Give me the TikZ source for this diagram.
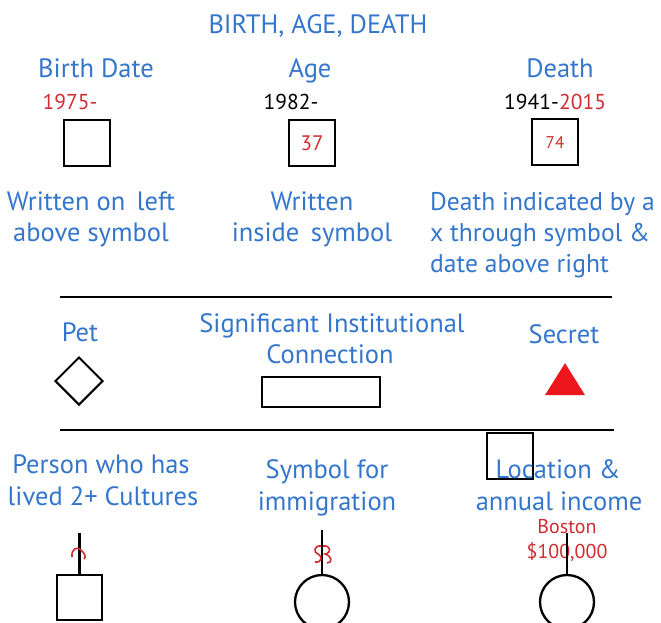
\documentclass[tikz,border=0pt]{standalone}
\usepackage{fontspec}
\setmainfont{PT Sans}
\usetikzlibrary{shapes.geometric}
\definecolor{lblue}{RGB}{52,118,204}
\definecolor{lred}{RGB}{208,44,50}
\definecolor{tri}{RGB}{236,22,28}
\begin{document}
\begin{tikzpicture}[x=1pt,y=-1pt,
  lbl/.style={text=lblue, font=\fontsize{26.5}{30}\selectfont, anchor=base, inner sep=0pt},
  lbll/.style={lbl, anchor=base west, font=\fontsize{25.6}{30}\selectfont},
  rtxt/.style={text=lred, font=\fontsize{21.5}{24}\selectfont, anchor=base, inner sep=0pt},
  btxt/.style={text=black, font=\fontsize{21.5}{24}\selectfont, inner sep=0pt},
  sq/.style={draw=black, line width=2.3pt, minimum size=46pt, inner sep=0pt},
  circ/.style={draw=black, line width=2.3pt, circle, minimum size=54pt, inner sep=0pt},
  rule/.style={line width=2.5pt},
  stem/.style={line width=2.3pt},
  redmark/.style={draw=lred, line width=1.6pt}
]
\useasboundingbox (0,0) rectangle (661,622);

% title
\node[lbl] (title) at (318,33) {BIRTH, AGE, DEATH};

% headings
\node[lbl] (hbirth) at (96,77) {Birth Date};
\node[lbl] (hage) at (310,77) {Age};
\node[lbl] (hdeath) at (560,77) {Death};

% dates
\node[rtxt] (d1975) at (70,109) {1975-};
\node[btxt, anchor=base] (d1982) at (291,109) {1982-};
\node[btxt, anchor=base east] (d1941) at (559,109) {1941-};
\node[rtxt, anchor=base west] (d2015) at (d1941.base east) {2015};

% symbols
\node[sq] (bsq) at (87,143) {};
\node[sq] (asq) at (312,143) {\textcolor{lred}{\fontsize{21}{24}\selectfont 37}};
\node[sq] (dsq) at (555,142) {\textcolor{lred}{\fontsize{17}{20}\selectfont 74}};

% descriptions
\node[lbl] (w1a) at (91,210) {Written on\, left};
\node[lbl] (w1b) at (91,241) {above symbol};
\node[lbl] (w2a) at (312,210) {Written};
\node[lbl] (w2b) at (312,241) {inside\, symbol};
\node[lbll] (w3a) at (430,210) {Death indicated by a};
\node[lbll] (w3b) at (430,241) {x through symbol \&};
\node[lbll] (w3c) at (430,272) {date above right};

% rule 1
\coordinate (r1l) at (60,297);
\coordinate (r1r) at (612,297);
\draw[rule] (r1l) -- (r1r);

\node[lbl] (pet) at (80,341) {Pet};
\node[lbl] (sig1) at (332,332) {Significant Institutional};
\node[lbl] (sig2) at (330,363) {Connection};
\node[lbl] (secret) at (564,343) {Secret};

\node[draw=black, line width=2pt, diamond, minimum width=48pt, minimum height=48pt, inner sep=0pt] (petd) at (79,381) {};
\node[draw=black, line width=2.3pt, minimum width=118pt, minimum height=30pt, inner sep=0pt] (inst) at (321,392) {};
\node[fill=tri, isosceles triangle, isosceles triangle apex angle=64, shape border rotate=90, minimum height=32pt, inner sep=0pt] (secr) at (565,384) {};

% rule 2
\coordinate (r2l) at (60,430);
\coordinate (r2r) at (614,430);
\draw[rule] (r2l) -- (r2r);

% bottom row
\node[lbl] (per1) at (101,473) {Person who has};
\node[lbl] (per2) at (103,505) {lived 2+ Cultures};
\node[lbl] (sym1) at (327,478) {Symbol for};
\node[lbl] (sym2) at (327,510) {immigration};
\node[sq] (locsq) at (510,456) {};
\node[lbl] (loc1) at (558,478) {Location \&};
\node[lbl] (loc2) at (559,510) {annual income};
\node[rtxt, font=\fontsize{20}{22}\selectfont] (bos) at (567,533) {Boston};
\node[rtxt, font=\fontsize{20}{22}\selectfont] (inc) at (567,558) {\$100,000};

% person with culture mark
\node[sq, minimum size=45pt] (psq) at (79.5,597.5) {};
\coordinate (ptop) at (79.5,533);
\draw[stem] (psq.north) -- (ptop);
\draw[redmark] (72,557) .. controls (71,549) and (77,546) .. (81,550) .. controls (84,553) and (87,557) .. (84,559);

% immigration
\node[circ] (icirc) at (322,602) {};
\coordinate (itop) at (322,530);
\draw[stem] (icirc.north) -- (itop);
\draw[redmark] (321,546) .. controls (314,545) and (313,553) .. (318,554) .. controls (323,556) and (322,563) .. (315,562);
\draw[redmark] (323,546) .. controls (331,545) and (332,553) .. (325,554) .. controls (332,556) and (333,563) .. (327,563);

% location
\node[circ] (lcirc) at (567,602) {};
\coordinate (ltop) at (567,533);
\draw[stem] (lcirc.north) -- (ltop);
\end{tikzpicture}
\end{document}
